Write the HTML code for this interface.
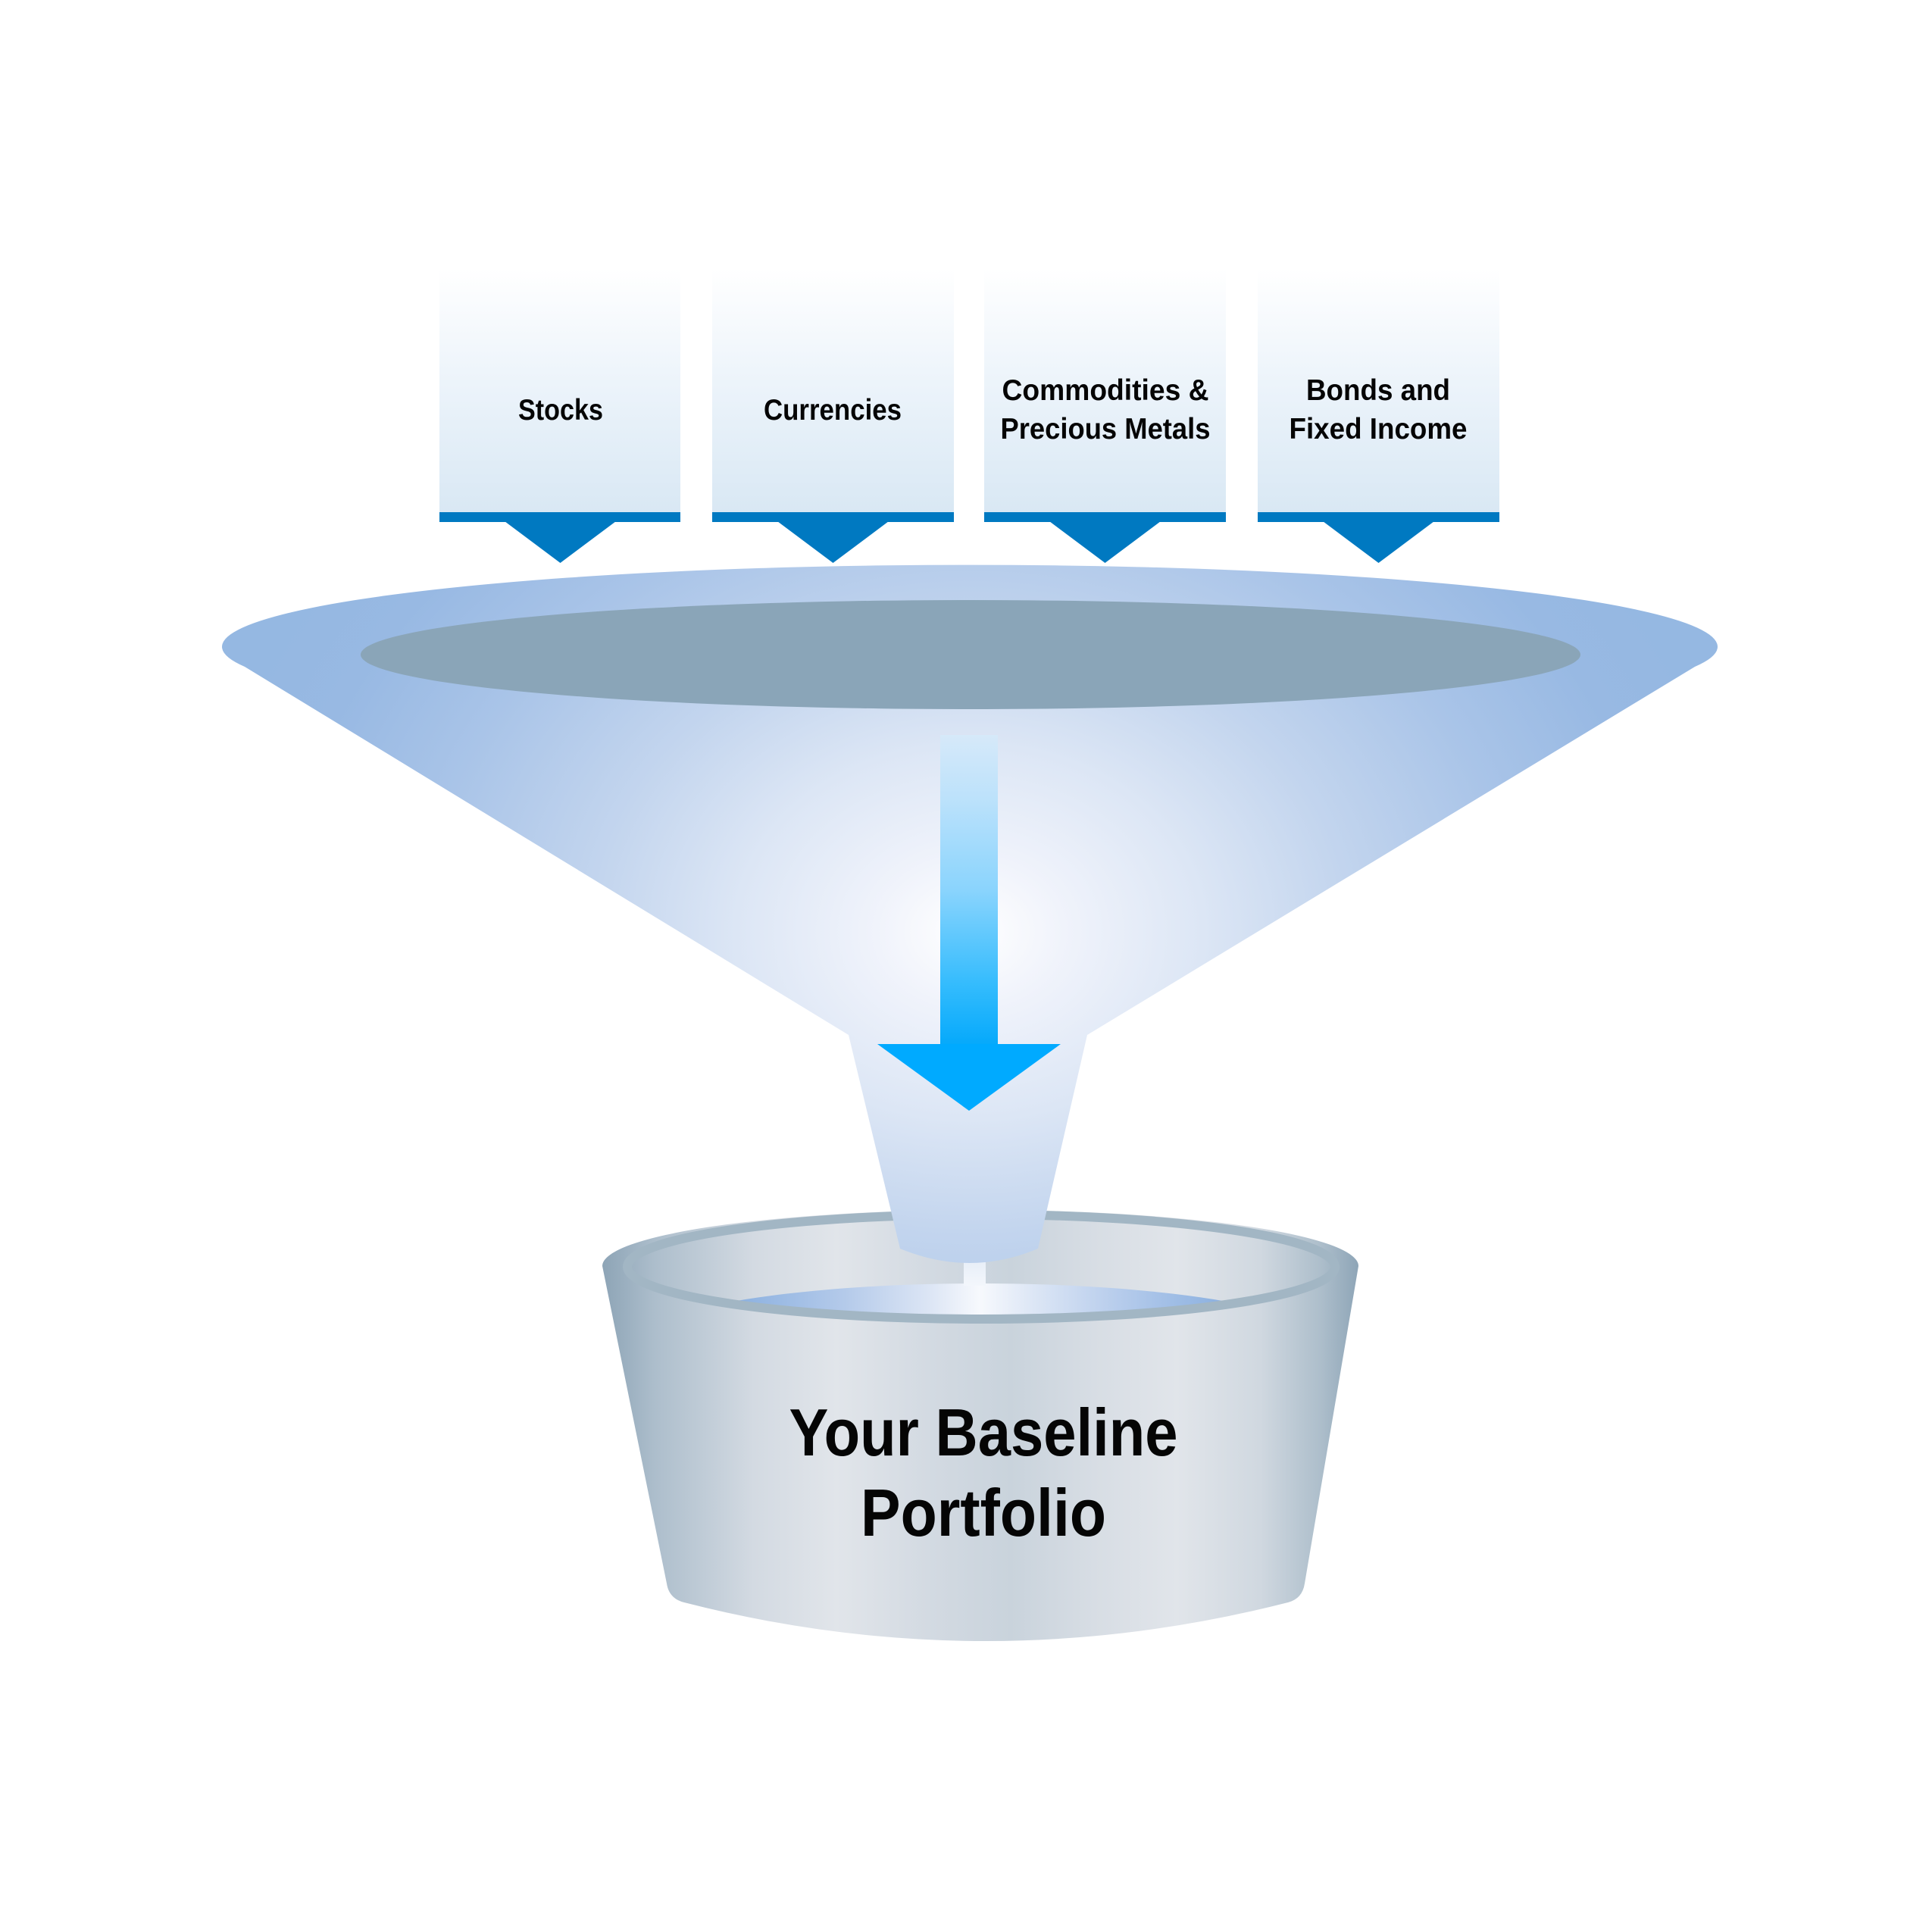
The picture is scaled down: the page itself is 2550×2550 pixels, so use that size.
<!DOCTYPE html>
<html>
<head>
<meta charset="utf-8">
<style>
  html, body { margin: 0; padding: 0; background: #ffffff; }
  svg { display: block; }
  text { font-family: "Liberation Sans", Arial, sans-serif; font-weight: bold; fill: #050505; }
</style>
</head>
<body>
<svg width="2550" height="2550" viewBox="0 0 2550 2550" xmlns="http://www.w3.org/2000/svg">
  <defs>
    <linearGradient id="boxg" x1="0" y1="355" x2="0" y2="676" gradientUnits="userSpaceOnUse">
      <stop offset="0" stop-color="#ffffff"/>
      <stop offset="0.12" stop-color="#fafcfe"/>
      <stop offset="0.5" stop-color="#ebf3fa"/>
      <stop offset="1" stop-color="#d9e8f4"/>
    </linearGradient>
    <radialGradient id="funnelg" cx="1280" cy="1230" r="1030" gradientUnits="userSpaceOnUse" gradientTransform="translate(1280 1230) scale(1 0.8) translate(-1280 -1230)">
      <stop offset="0" stop-color="#ffffff"/>
      <stop offset="0.12" stop-color="#f0f3fb"/>
      <stop offset="0.3" stop-color="#dce6f5"/>
      <stop offset="0.48" stop-color="#c3d5ee"/>
      <stop offset="0.7" stop-color="#a9c4e8"/>
      <stop offset="0.88" stop-color="#98b9e3"/>
      <stop offset="1" stop-color="#95b8e2"/>
    </radialGradient>
    <linearGradient id="arrowg" x1="0" y1="970" x2="0" y2="1380" gradientUnits="userSpaceOnUse">
      <stop offset="0" stop-color="#d6e9f9"/>
      <stop offset="0.2" stop-color="#bde2fb"/>
      <stop offset="0.5" stop-color="#8ad4fd"/>
      <stop offset="0.8" stop-color="#35bcfd"/>
      <stop offset="1" stop-color="#05a9fb"/>
    </linearGradient>
    <linearGradient id="bucketg" x1="795" y1="0" x2="1793" y2="0" gradientUnits="userSpaceOnUse">
      <stop offset="0" stop-color="#8da4b6"/>
      <stop offset="0.07" stop-color="#adbecc"/>
      <stop offset="0.2" stop-color="#d3dae2"/>
      <stop offset="0.31" stop-color="#e1e5ea"/>
      <stop offset="0.43" stop-color="#d3dae2"/>
      <stop offset="0.54" stop-color="#c9d3dc"/>
      <stop offset="0.65" stop-color="#d7dde4"/>
      <stop offset="0.76" stop-color="#e1e5ea"/>
      <stop offset="0.87" stop-color="#d0d8e0"/>
      <stop offset="0.95" stop-color="#adbecb"/>
      <stop offset="1" stop-color="#8ea5b7"/>
    </linearGradient>
    <linearGradient id="fluidg" x1="974" y1="0" x2="1612" y2="0" gradientUnits="userSpaceOnUse">
      <stop offset="0" stop-color="#8cb1e0"/>
      <stop offset="0.22" stop-color="#b4caea"/>
      <stop offset="0.4" stop-color="#dde6f5"/>
      <stop offset="0.5" stop-color="#f7f9fd"/>
      <stop offset="0.6" stop-color="#dfe8f6"/>
      <stop offset="0.78" stop-color="#b8cdec"/>
      <stop offset="1" stop-color="#8cb1e0"/>
    </linearGradient>
    <linearGradient id="stemg" x1="0" y1="1660" x2="0" y2="1700" gradientUnits="userSpaceOnUse">
      <stop offset="0" stop-color="#e6edf7"/>
      <stop offset="1" stop-color="#f4f7fc"/>
    </linearGradient>
    <clipPath id="ringclip">
      <ellipse cx="1295" cy="1672" rx="461" ry="63"/>
    </clipPath>
  </defs>

  <!-- Top category boxes -->
  <g>
    <rect x="580" y="355" width="318" height="321" fill="url(#boxg)"/>
    <rect x="940" y="355" width="319" height="321" fill="url(#boxg)"/>
    <rect x="1299" y="355" width="319" height="321" fill="url(#boxg)"/>
    <rect x="1660" y="355" width="319" height="321" fill="url(#boxg)"/>

    <rect x="580" y="676" width="318" height="13" fill="#0079c1"/>
    <rect x="940" y="676" width="319" height="13" fill="#0079c1"/>
    <rect x="1299" y="676" width="319" height="13" fill="#0079c1"/>
    <rect x="1660" y="676" width="319" height="13" fill="#0079c1"/>

    <polygon points="666,688 813,688 739.5,743" fill="#0079c1"/>
    <polygon points="1026,688 1173,688 1099.5,743" fill="#0079c1"/>
    <polygon points="1385,688 1532,688 1458.5,743" fill="#0079c1"/>
    <polygon points="1746,688 1893,688 1819.5,743" fill="#0079c1"/>

    <text x="740" y="554" font-size="39" text-anchor="middle" textLength="112" lengthAdjust="spacingAndGlyphs">Stocks</text>
    <text x="1099" y="554" font-size="39" text-anchor="middle" textLength="182" lengthAdjust="spacingAndGlyphs">Currencies</text>
    <text x="1459" y="528" font-size="39" text-anchor="middle" textLength="273" lengthAdjust="spacingAndGlyphs">Commodities &amp;</text>
    <text x="1459" y="579" font-size="39" text-anchor="middle" textLength="277" lengthAdjust="spacingAndGlyphs">Precious Metals</text>
    <text x="1819" y="528" font-size="39" text-anchor="middle" textLength="190" lengthAdjust="spacingAndGlyphs">Bonds and</text>
    <text x="1819" y="579" font-size="39" text-anchor="middle" textLength="235" lengthAdjust="spacingAndGlyphs">Fixed Income</text>
  </g>

  <!-- Bucket -->
  <g>
    <path d="M 795 1671 A 499 74 0 0 1 1793 1671 L 1722 2090 Q 1719 2110 1700 2115 Q 1300 2217 903 2115 Q 883 2110 880 2090 Z" fill="url(#bucketg)"/>
    <!-- fluid -->
    <g clip-path="url(#ringclip)">
      <ellipse cx="1293" cy="1775" rx="460" ry="81" fill="url(#fluidg)"/>
    </g>
    <!-- ring -->
    <ellipse cx="1295" cy="1672" rx="467" ry="69" fill="none" stroke="#a2b6c4" stroke-width="12"/>
    <!-- stem -->
    <rect x="1272" y="1655" width="29" height="42" fill="url(#stemg)"/>
  </g>

  <!-- Funnel -->
  <g>
    <path d="M 323 880 A 987 108 0 1 1 2237 880 L 1435 1366 L 1370 1648 Q 1280 1686 1188 1648 L 1120 1366 Z" fill="url(#funnelg)"/>
    <ellipse cx="1281" cy="864" rx="805" ry="72" fill="#8aa5b8"/>
  </g>

  <!-- Arrow -->
  <g>
    <rect x="1241" y="970" width="76" height="409" fill="url(#arrowg)"/>
    <polygon points="1158,1378 1400,1378 1279,1466" fill="#00aaff"/>
  </g>

  <!-- Bucket label -->
  <text x="1298" y="1921" font-size="88" text-anchor="middle" textLength="513" lengthAdjust="spacingAndGlyphs">Your Baseline</text>
  <text x="1298" y="2027" font-size="88" text-anchor="middle" textLength="324" lengthAdjust="spacingAndGlyphs">Portfolio</text>
</svg>
</body>
</html>
